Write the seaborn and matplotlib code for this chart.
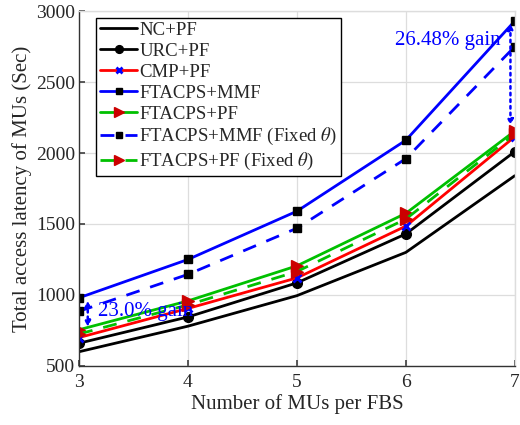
import matplotlib
matplotlib.use("Agg")
import matplotlib.pyplot as plt
import seaborn as sns
import pandas as pd

# Number of MUs per FBS
mus = [3, 4, 5, 6, 7]

# Total access latency (Sec) per scheme
nc_pf = [600, 780, 995, 1300, 1840]
urc_pf = [660, 845, 1085, 1430, 2010]
cmp_pf = [700, 905, 1120, 1485, 2115]
ftacps_mmf = [980, 1250, 1590, 2090, 2930]
ftacps_pf = [755, 958, 1205, 1575, 2155]
ftacps_mmf_fixed = [885, 1145, 1470, 1960, 2750]
ftacps_pf_fixed = [725, 930, 1165, 1535, 2135]

labels = ["NC+PF", "URC+PF", "CMP+PF", "FTACPS+MMF", "FTACPS+PF",
          r"FTACPS+MMF (Fixed $\theta$)", r"FTACPS+PF (Fixed $\theta$)"]
series = [nc_pf, urc_pf, cmp_pf, ftacps_mmf, ftacps_pf,
          ftacps_mmf_fixed, ftacps_pf_fixed]

gain_low = "23.0% gain"
gain_high = "26.48% gain"

sns.set_theme(style="whitegrid")
plt.rcParams["font.family"] = ["Liberation Serif", "DejaVu Serif"]
plt.rcParams["mathtext.fontset"] = "stix"

green = "#00c000"
styles = [
    dict(color="black", ls="-", marker=None, mfc=None, mec=None, ms=0),
    dict(color="black", ls="-", marker="o", mfc="black", mec="black", ms=7),
    dict(color="red", ls="-", marker="x", mfc="blue", mec="blue", ms=6),
    dict(color="blue", ls="-", marker="s", mfc="black", mec="black", ms=6),
    dict(color=green, ls="-", marker=">", mfc="#cc0000", mec="#cc0000", ms=9),
    dict(color="blue", ls=(0, (5, 4)), marker="s", mfc="black", mec="black", ms=6),
    dict(color=green, ls=(0, (5, 4)), marker=">", mfc="#cc0000", mec="#cc0000", ms=9),
]

df = pd.concat(
    [pd.DataFrame({"mus": mus, "latency": vals, "scheme": lab})
     for lab, vals in zip(labels, series)],
    ignore_index=True,
)

fig, ax = plt.subplots(figsize=(5.2, 4.25), dpi=100)
fig.subplots_adjust(left=0.152, right=0.990, top=0.974, bottom=0.139)

handles = []
for lab, st in zip(labels, styles):
    sub = df[df["scheme"] == lab]
    sns.lineplot(data=sub, x="mus", y="latency", ax=ax, color=st["color"],
                 linestyle=st["ls"], linewidth=2,
                 marker=st["marker"] if st["marker"] else None,
                 markersize=st["ms"],
                 markerfacecolor=st["mfc"] if st["mfc"] else "none",
                 markeredgecolor=st["mec"] if st["mec"] else "none",
                 markeredgewidth=2 if st["marker"] == "x" else 1,
                 legend=False, errorbar=None)
    handles.append(ax.lines[-1])

# Gain annotations
ax.annotate("", xy=(3.08, ftacps_pf[0]), xytext=(3.08, ftacps_mmf[0]),
            arrowprops=dict(arrowstyle="<|-|>", color="blue", lw=1.8,
                            linestyle=":", mutation_scale=8))
ax.text(3.17, 880, gain_low, color="blue", fontsize=15, va="center", ha="left")
ax.annotate("", xy=(6.96, ftacps_pf[-1] + 20), xytext=(6.96, ftacps_mmf[-1]),
            arrowprops=dict(arrowstyle="<|-|>", color="blue", lw=1.8,
                            linestyle=":", mutation_scale=8))
ax.text(6.87, 2790, gain_high, color="blue", fontsize=15, va="center", ha="right")

ax.set_xlim(3, 7)
ax.set_ylim(500, 3000)
ax.set_xticks(mus)
ax.set_yticks([500, 1000, 1500, 2000, 2500, 3000])
ax.set_xlabel("Number of MUs per FBS", fontsize=15, labelpad=2)
ax.set_ylabel("Total access latency of MUs (Sec)", fontsize=15, labelpad=3)
ax.tick_params(axis="both", labelsize=14, direction="in", length=4,
               color="#444444", left=True, bottom=True)
ax.tick_params(axis="x", pad=6)
ax.tick_params(axis="y", pad=3)
ax.grid(True, color="#dddddd", linewidth=0.9)
for side in ["left", "bottom"]:
    ax.spines[side].set_color("#333333")
    ax.spines[side].set_linewidth(1)
for side in ["top", "right"]:
    ax.spines[side].set_color("#dddddd")
    ax.spines[side].set_linewidth(1)

leg = ax.legend(handles, labels, loc="upper left", bbox_to_anchor=(0.039, 0.98),
                borderaxespad=0, fontsize=13.5, frameon=True, fancybox=False,
                handlelength=2.0, handletextpad=0.1, labelspacing=0.2,
                borderpad=0.2, markerscale=0.8)
leg.get_frame().set_edgecolor("black")
leg.get_frame().set_linewidth(1)
leg.get_frame().set_alpha(1)

fig.savefig("out.png", dpi=100)
